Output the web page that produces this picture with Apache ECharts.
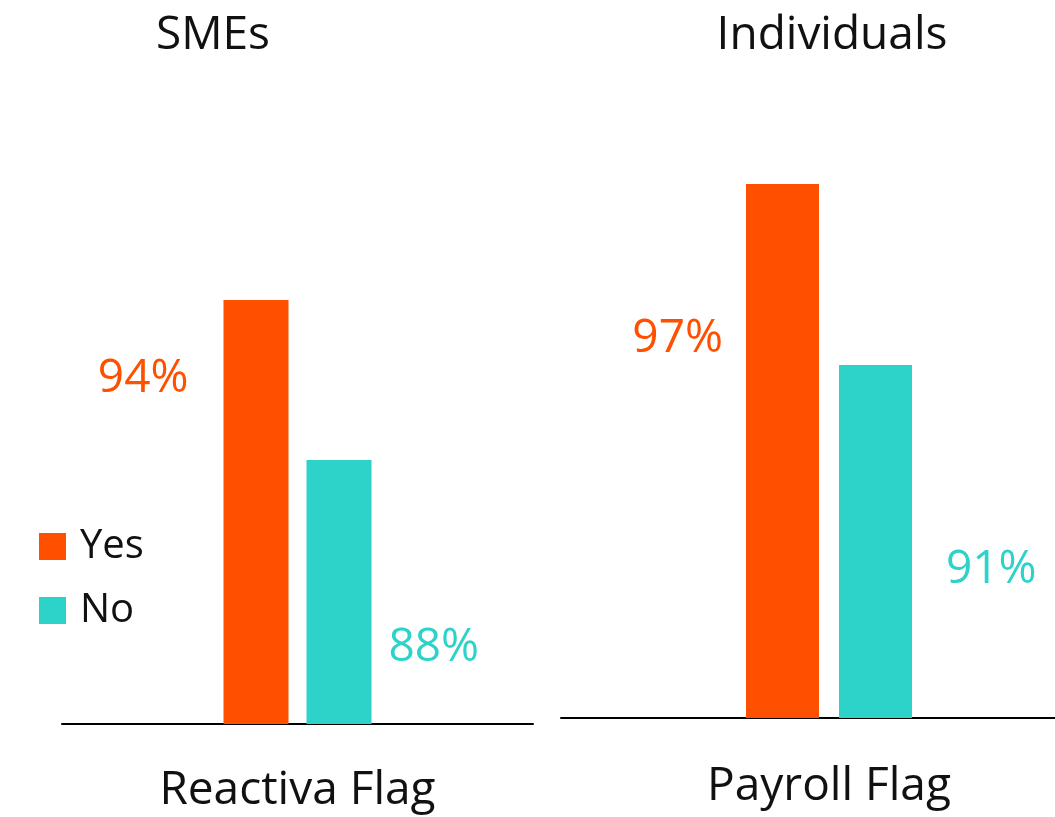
<!DOCTYPE html>
<html>
<head>
<meta charset="utf-8">
<script src="https://cdn.jsdelivr.net/npm/echarts@6/dist/echarts.min.js"></script>
<style>
html,body{margin:0;padding:0;background:#fff;}
#chart{width:1055px;height:817px;}
</style>
</head>
<body>
<div id="chart"></div>
<script>
const panelTitles = ['SMEs', 'Individuals'];
const flagNames = ['Reactiva Flag', 'Payroll Flag'];
const seriesNames = ['Yes', 'No'];
const yesValues = [94, 97];
const noValues = [88, 91];

const ORANGE = '#FF5000';
const TEAL = '#2DD3C9';
const FONT = 'Open Sans';

const chart = echarts.init(document.getElementById('chart'));

const grids = [
  { left: 62, width: 471, top: 140, bottom: 93, outerBoundsMode: 'none', containLabel: false },
  { left: 561, width: 536, top: 93.5, bottom: 99, outerBoundsMode: 'none', containLabel: false }
];
const yMin = [78.1, 79.3];
const barW = [65, 73];
const gaps = ['27.7%', '27.4%'];
const nameGaps = [44, 46];
const labelPos = [
  { yes: [-35, 78.5], no: [82, 188] },
  { yes: [-23, 155], no: [107, 205] }
];

const xAxes = flagNames.map((f, i) => ({
  type: 'category',
  gridIndex: i,
  data: [f],
  axisLine: { show: true, lineStyle: { color: '#000', width: 2 } },
  axisTick: { show: false },
  axisLabel: { show: false },
  name: f,
  nameLocation: 'middle',
  nameGap: nameGaps[i],
  nameTextStyle: { fontFamily: FONT, fontSize: 46, color: '#111', lineHeight: 46 }
}));

const yAxes = flagNames.map((f, i) => ({
  type: 'value',
  gridIndex: i,
  min: yMin[i],
  max: 100,
  show: false,
  splitLine: { show: false }
}));

const series = [];
flagNames.forEach((f, i) => {
  series.push({
    name: seriesNames[0],
    type: 'bar',
    xAxisIndex: i,
    yAxisIndex: i,
    data: [yesValues[i]],
    barWidth: barW[i],
    barGap: gaps[i],
    itemStyle: { color: ORANGE },
    label: {
      show: true,
      formatter: '{c}%',
      position: labelPos[i].yes,
      align: 'right',
      verticalAlign: 'middle',
      fontFamily: FONT,
      fontSize: 46,
      color: ORANGE
    }
  });
  series.push({
    name: seriesNames[1],
    type: 'bar',
    xAxisIndex: i,
    yAxisIndex: i,
    data: [noValues[i]],
    barWidth: barW[i],
    barGap: gaps[i],
    itemStyle: { color: TEAL },
    label: {
      show: true,
      formatter: '{c}%',
      position: labelPos[i].no,
      align: 'left',
      verticalAlign: 'middle',
      fontFamily: FONT,
      fontSize: 46,
      color: TEAL
    }
  });
});

chart.setOption({
  animation: false,
  backgroundColor: '#fff',
  grid: grids,
  xAxis: xAxes,
  yAxis: yAxes,
  legend: {
    data: seriesNames,
    orient: 'vertical',
    left: 39,
    top: 526.5,
    padding: 0,
    itemWidth: 27,
    itemHeight: 27,
    itemGap: 24,
    icon: 'rect',
    textStyle: { fontFamily: FONT, fontSize: 40, lineHeight: 40, color: '#111', padding: [0, 0, 0, 9] }
  },
  graphic: [
    { type: 'text', x: 213, y: 35.5, style: { text: panelTitles[0], fontFamily: FONT, fontSize: 46, fill: '#111', textAlign: 'center', textVerticalAlign: 'middle' } },
    { type: 'text', x: 832, y: 35.5, style: { text: panelTitles[1], fontFamily: FONT, fontSize: 46, fill: '#111', textAlign: 'center', textVerticalAlign: 'middle' } }
  ],
  series: series
});
</script>
</body>
</html>
